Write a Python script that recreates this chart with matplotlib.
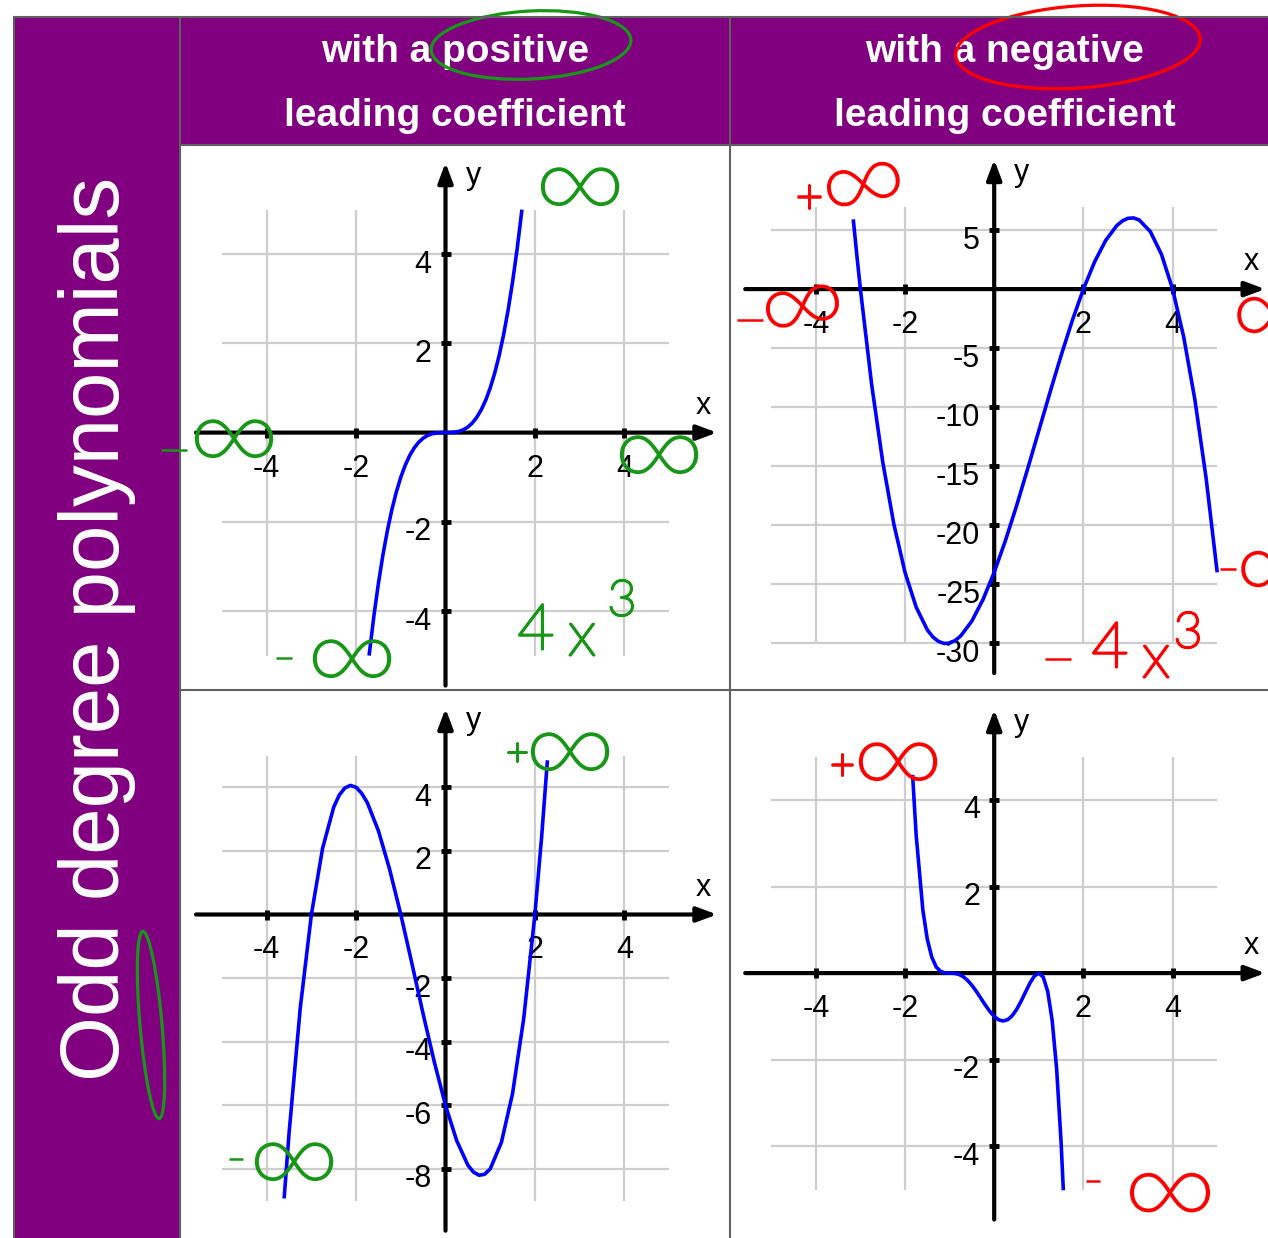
import matplotlib
matplotlib.use("Agg")
import matplotlib.pyplot as plt
import matplotlib.patheffects as pe
from matplotlib.patches import Rectangle, Ellipse

plt.rcParams["axes.unicode_minus"] = False

# ---------------------------------------------------------------- content
row_title = "Odd degree polynomials"
col_titles = [["with a positive", "leading coefficient"],
              ["with a negative", "leading coefficient"]]

# top-left: positive leading coefficient (4x^3 style)
tl_x = [-1.71, -1.6, -1.5, -1.4, -1.3, -1.2, -1.1, -1.0, -0.9, -0.8, -0.7, -0.6,
        -0.5, -0.4, -0.3, -0.2, -0.1, 0.0, 0.1, 0.2, 0.3, 0.4, 0.5, 0.6, 0.7,
        0.8, 0.9, 1.0, 1.1, 1.2, 1.3, 1.4, 1.5, 1.6, 1.71]
tl_y = [-5.0, -4.096, -3.375, -2.744, -2.197, -1.728, -1.331, -1.0, -0.729,
        -0.512, -0.343, -0.216, -0.125, -0.064, -0.027, -0.008, -0.001, 0.0,
        0.001, 0.008, 0.027, 0.064, 0.125, 0.216, 0.343, 0.512, 0.729, 1.0,
        1.331, 1.728, 2.197, 2.744, 3.375, 4.096, 5.0]
tl_yticks = [-4, -2, 2, 4]
tl_yrange = [-5, 5]

# top-right: negative leading coefficient
tr_x = [-3.16, -3.08, -3.0, -2.75, -2.5, -2.25, -2.0, -1.75, -1.5, -1.375, -1.25,
        -1.125, -1.0, -0.875, -0.75, -0.5, -0.25, 0.0, 0.25, 0.5, 0.75, 1.0,
        1.25, 1.5, 1.75, 2.0, 2.25, 2.5, 2.75, 2.875, 3.0, 3.125, 3.25, 3.5,
        3.75, 4.0, 4.25, 4.5, 4.75, 5.0]
tr_y = [5.91, 2.88, 0.0, -8.02, -14.63, -19.92, -24.0, -26.95, -28.88, -29.48,
        -29.86, -30.03, -30.0, -29.78, -29.39, -28.13, -26.30, -24.0, -21.33,
        -18.38, -15.23, -12.0, -8.77, -5.63, -2.67, 0.0, 2.30, 4.13, 5.39, 5.78,
        6.0, 6.03, 5.86, 4.88, 2.95, 0.0, -4.08, -9.38, -15.98, -24.0]
tr_yticks = [5, -5, -10, -15, -20, -25, -30]
tr_yrange = [-30, 7]

# bottom-left: positive leading coefficient
bl_x = [-3.61, -3.5, -3.25, -3.0, -2.75, -2.5, -2.375, -2.25, -2.125, -2.0,
        -1.875, -1.75, -1.5, -1.25, -1.0, -0.75, -0.5, -0.25, 0.0, 0.25, 0.5,
        0.625, 0.75, 0.875, 1.0, 1.25, 1.5, 1.75, 2.0, 2.15, 2.28]
bl_y = [-8.93, -6.88, -2.95, 0.0, 2.08, 3.38, 3.76, 3.98, 4.06, 4.0, 3.81, 3.52,
        2.63, 1.42, 0.0, -1.55, -3.13, -4.64, -6.0, -7.11, -7.88, -8.10, -8.20,
        -8.17, -8.0, -7.17, -5.63, -3.27, 0.0, 2.43, 4.85]
bl_yticks = [-8, -6, -4, -2, 2, 4]
bl_yrange = [-9, 5]

# bottom-right: negative leading coefficient
br_x = [-1.83, -1.75, -1.6, -1.5, -1.4, -1.3, -1.2, -1.1, -1.0, -0.9, -0.8, -0.7,
        -0.6, -0.5, -0.4, -0.3, -0.2, -0.1, 0.0, 0.1, 0.2, 0.3, 0.4, 0.5, 0.6,
        0.7, 0.8, 0.9, 1.0, 1.1, 1.2, 1.3, 1.4, 1.5, 1.55]
br_y = [4.58, 3.19, 1.46, 0.78, 0.37, 0.14, 0.04, 0.004, 0.0, -0.004, -0.026,
        -0.078, -0.164, -0.281, -0.423, -0.580, -0.737, -0.882, -1.0, -1.078,
        -1.106, -1.077, -0.988, -0.844, -0.655, -0.442, -0.233, -0.069, 0.0,
        -0.093, -0.426, -1.095, -2.212, -3.906, -5.016]
br_yticks = [-4, -2, 2, 4]
br_yrange = [-5, 5]

xticks = [-4, -2, 2, 4]
xrange_ = [-5, 5]

panels = [
    (tl_x, tl_y, tl_yticks, tl_yrange),
    (tr_x, tr_y, tr_yticks, tr_yrange),
    (bl_x, bl_y, bl_yticks, bl_yrange),
    (br_x, br_y, br_yticks, br_yrange),
]

# ---------------------------------------------------------------- layout
W, H = 1268, 1238
PURPLE = "#800080"
BORDER = "#606060"
GRID = "#cdcdcd"
CURVE = "#0000ff"
GREEN = "#179617"
RED = "#ff0000"

# cell box (left, top, right, bottom) in pixels, origin pixel, pixels per unit
panel_boxes = [
    dict(cell=(181, 146, 729, 689), origin=(445.5, 432.6), scale=(44.7, 44.6)),
    dict(cell=(731, 146, 1290, 689), origin=(994.2, 289.1), scale=(44.6, 11.8)),
    dict(cell=(181, 691, 729, 1238), origin=(445.5, 914.5), scale=(44.7, 31.8)),
    dict(cell=(731, 691, 1290, 1238), origin=(994.2, 973.1), scale=(44.6, 43.3)),
]

fig = plt.figure(figsize=(W / 100, H / 100), dpi=100)
fig.patch.set_facecolor("white")

# background table
base = fig.add_axes([0, 0, 1, 1], zorder=0)
base.set_xlim(0, W)
base.set_ylim(H, 0)
base.axis("off")
base.add_patch(Rectangle((15, 17), 165, H - 17, color=PURPLE, lw=0))
base.add_patch(Rectangle((180, 17), 1120, 128, color=PURPLE, lw=0))

base.text(97.5, 628.5, row_title, rotation=90, ha="center", va="center",
          color="white", fontsize=60, family="Liberation Sans")
for cx, lines in zip([455, 1005], col_titles):
    for baseline, line in zip([62, 126.5], lines):
        base.text(cx, baseline, line, ha="center", va="baseline", color="white",
                  fontsize=28, fontweight="bold", family="Liberation Sans")

label_font = dict(fontsize=22, family="Liberation Sans", color="black")

for (cx_, cy_, yt, yr), box in zip(panels, panel_boxes):
    L, T, R, B = box["cell"]
    ox, oy = box["origin"]
    sx, sy = box["scale"]
    ax = fig.add_axes([L / W, 1 - B / H, (R - L) / W, (B - T) / H], zorder=1)
    ax.set_xlim((L - ox) / sx, (R - ox) / sx)
    ax.set_ylim((oy - B) / sy, (oy - T) / sy)
    ax.axis("off")
    ax.patch.set_facecolor("none")

    gx0, gx1 = xrange_
    gy0, gy1 = yr
    # grid
    ax.vlines(xticks, gy0, gy1, colors=GRID, lw=1.6, zorder=1)
    ax.hlines(yt, gx0, gx1, colors=GRID, lw=1.6, zorder=1)

    # axes with arrow heads
    arrow = dict(arrowstyle="-|>,head_length=0.75,head_width=0.28",
                 color="black", lw=3, mutation_scale=16, shrinkA=0, shrinkB=0)
    ax.annotate("", xy=(gx1 + 48 / sx, 0), xytext=(gx0 - 26 / sx, 0),
                arrowprops=arrow, annotation_clip=False, zorder=3)
    ax.annotate("", xy=(0, gy1 + 47 / sy), xytext=(0, gy0 - 30 / sy),
                arrowprops=arrow, annotation_clip=False, zorder=3)

    # tick marks
    ax.plot(xticks, [0] * len(xticks), ls="none", marker="|", ms=7, mew=3.5,
            color="black", zorder=3)
    ax.plot([0] * len(yt), yt, ls="none", marker="_", ms=7, mew=3.5,
            color="black", zorder=3)

    # tick labels
    for v in xticks:
        ax.annotate(str(v), (v, 0), xytext=(0, -44), textcoords="offset pixels",
                    ha="center", va="baseline", **label_font)
    for v in yt:
        ax.annotate(str(v), (0, v), xytext=(-14, -18.5), textcoords="offset pixels",
                    ha="right", va="baseline", **label_font)
    ax.annotate("x", (gx1, 0), xytext=(34, 19), textcoords="offset pixels",
                ha="center", va="baseline", **label_font)
    ax.annotate("y", (0, gy1), xytext=(20, 26), textcoords="offset pixels",
                ha="left", va="baseline", **label_font)

    # polynomial curve
    ax.plot(cx_, cy_, color=CURVE, lw=2.6, zorder=4, solid_joinstyle="round",
            solid_capstyle="butt")

# overlay: borders and hand-written notes
top = fig.add_axes([0, 0, 1, 1], zorder=5)
top.set_xlim(0, W)
top.set_ylim(H, 0)
top.axis("off")
top.patch.set_facecolor("none")

for xs, ys in [([14, W], [17, 17]), ([14, 14], [17, H]), ([180, 180], [17, H]),
               ([730, 730], [17, H]), ([180, W], [145, 145]), ([180, W], [690, 690])]:
    top.plot(xs, ys, color=BORDER, lw=1.5)

# pen strokes: thin face thickened by an outline in the same ink
pen = dict(family=["Lato", "Liberation Sans"], ha="center", va="center",
           fontweight="light")
INF = 92
notes = [
    # green notes
    ("∞", 580, 190, INF, GREEN, 0),
    ("—", 174, 451, 30, GREEN, 0),
    ("∞", 234, 442, INF, GREEN, 0),
    ("∞", 659, 458, INF, GREEN, 0),
    ("–", 284, 658, 28, GREEN, 0),
    ("∞", 352, 662, INF, GREEN, 0),
    ("4", 536, 632, 46, GREEN, 0),
    ("x", 582, 638, 46, GREEN, 0),
    ("3", 622, 602, 36, GREEN, 0),
    ("+", 517, 754, 28, GREEN, 0),
    ("∞", 570, 755, INF, GREEN, 0),
    ("–", 236, 1160, 26, GREEN, 0),
    ("∞", 294, 1165, INF, GREEN, 0),
    # red notes
    ("+", 809, 200, 34, RED, 0),
    ("∞", 864, 187, INF - 6, RED, 12),
    ("—", 750, 321, 30, RED, 0),
    ("∞", 803, 309, INF - 6, RED, 10),
    ("∞", 1274, 318, INF - 6, RED, 0),
    ("–", 1228, 570, 30, RED, 0),
    ("∞", 1278, 572, INF - 6, RED, 0),
    ("—", 1058, 660, 30, RED, 0),
    ("4", 1110, 650, 46, RED, 0),
    ("x", 1156, 660, 46, RED, 0),
    ("3", 1188, 634, 36, RED, 0),
    ("+", 842, 768, 32, RED, 0),
    ("∞", 898, 765, INF, RED, 0),
    ("–", 1093, 1182, 26, RED, 0),
    ("∞", 1170, 1196, INF + 2, RED, 0),
]
for txt, x, y, size, col, rot in notes:
    top.text(x, y, txt, fontsize=size, color=col, rotation=rot,
             path_effects=[pe.withStroke(linewidth=1.8, foreground=col)], **pen)

top.add_patch(Ellipse((531, 45), 200, 68, angle=-3, fill=False, ec=GREEN, lw=2.3))
top.add_patch(Ellipse((1078, 47), 245, 82, angle=-4, fill=False, ec=RED, lw=2.3))
top.add_patch(Ellipse((151, 1025), 22, 188, angle=-5, fill=False, ec=GREEN, lw=2.3))

fig.savefig("out.png", dpi=100)
